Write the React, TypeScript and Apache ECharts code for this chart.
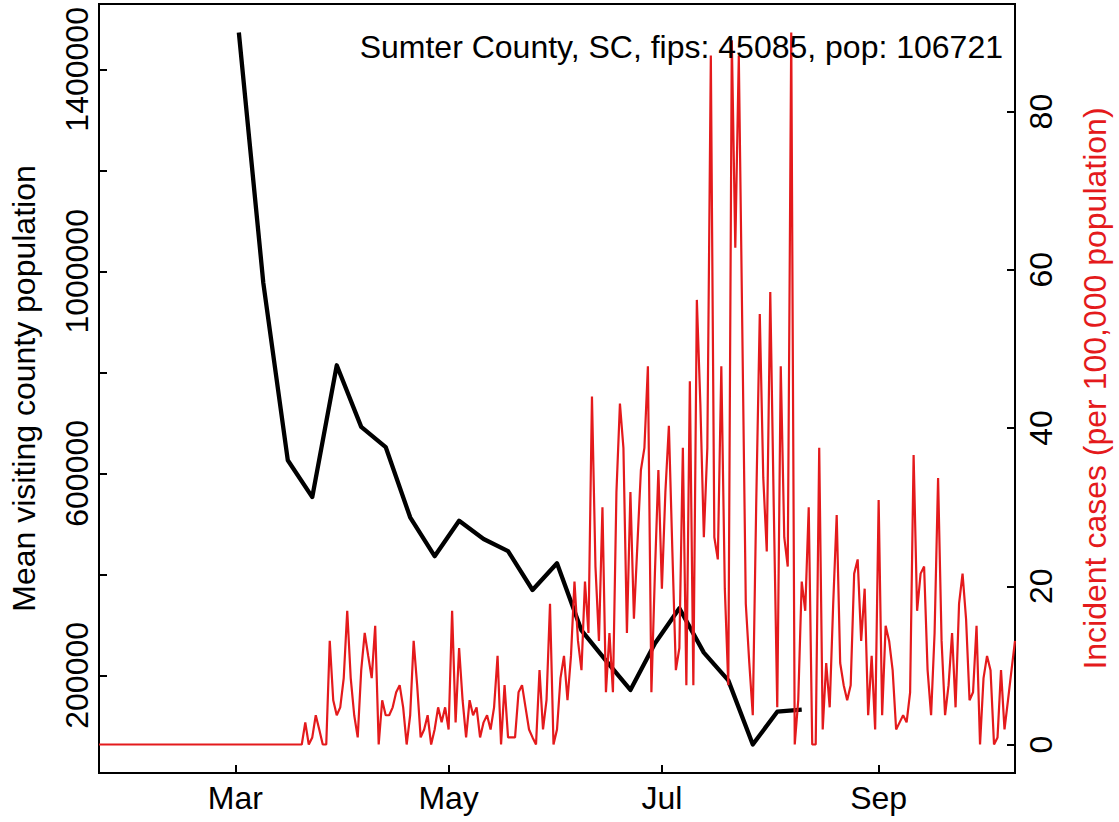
import React, { useEffect, useRef } from 'react';
import * as echarts from 'echarts';

const DAY = 86400000;

// Daily incident cases per 100,000 population (Sumter County, SC), starting 2020-01-22
const caseStart = '2020-01-22';
const incidentCases = [
  0, 0, 0, 0, 0, 0, 0, 0, 0, 0,
  0, 0, 0, 0, 0, 0, 0, 0, 0, 0,
  0, 0, 0, 0, 0, 0, 0, 0, 0, 0,
  0, 0, 0, 0, 0, 0, 0, 0, 0, 0,
  0, 0, 0, 0, 0, 0, 0, 0, 0, 0,
  0, 0, 0, 0, 0, 0, 0, 0, 0,
  2.8, 0, 0.9, 3.7, 1.9, 0, 0, 13.1, 5.6, 3.7,
  4.7, 8.4, 16.9, 8.4, 3.7, 0.9, 9.4, 14.1, 11.2, 8.4,
  15.0, 0, 5.6, 3.7, 3.7, 4.7, 6.6, 7.5, 4.7, 0,
  3.7, 13.1, 7.5, 0.9, 1.9, 3.7, 0, 1.9, 4.7, 2.8,
  4.7, 1.9, 16.9, 2.8, 12.2, 5.6, 0.9, 5.6, 3.7, 4.7,
  0.9, 2.8, 3.7, 1.9, 4.7, 11.2, 0, 7.5, 0.9, 0.9,
  0.9, 6.6, 7.5, 4.7, 1.9, 0.9, 0, 9.4, 1.9, 5.6,
  17.8, 0, 1.9, 8.4, 11.2, 5.6, 11.2, 20.6, 13.1, 9.4,
  20.6, 14.1, 44.0, 22.5, 13.1, 30.0, 6.6, 14.1, 6.6, 31.9,
  43.1, 37.5, 14.1, 31.9, 15.9, 25.3, 34.7, 37.5, 47.8, 6.6,
  21.6, 34.7, 19.7, 31.9, 40.3, 24.4, 9.4, 12.2, 37.5, 7.5,
  45.9, 7.5, 56.2, 43.1, 26.2, 37.5, 87.1, 26.2, 23.4, 47.8,
  19.7, 7.5, 89.0, 62.8, 87.1, 52.5, 17.8, 10.3, 3.7, 30.9,
  54.4, 33.7, 24.4, 57.2, 30.0, 4.7, 47.8, 26.2, 22.5, 90.0,
  0, 5.6, 20.6, 16.9, 30.0, 0, 0, 37.5, 1.9, 10.3,
  4.7, 17.8, 29.0, 10.3, 7.5, 5.6, 7.5, 21.6, 23.4, 13.1,
  19.7, 3.7, 11.2, 1.9, 30.9, 3.7, 15.0, 13.1, 9.4, 1.9,
  2.8, 3.7, 2.8, 6.6, 36.6, 16.9, 21.6, 22.5, 9.4, 3.7,
  14.1, 33.7, 13.1, 3.7, 7.5, 14.1, 4.7, 17.8, 21.6, 15.9,
  5.6, 6.6, 15.0, 0, 8.4, 11.2, 9.4, 0, 0.9, 9.4,
  1.9, 5.6, 9.4, 13.1,
];

// Weekly mean visiting county population, starting 2020-03-02
const visitStart = '2020-03-02';
const visitingPop = [
  1473000, 977000, 626000, 553000, 814000, 692000, 652000, 513000,
  436000, 506000, 470000, 446000, 369000, 422000, 289000, 229000,
  171000, 263000, 333000, 245000, 190000, 63000, 128000, 132000,
];

const xTickDates = ['2020-03-01', '2020-05-01', '2020-07-01', '2020-09-01'];
const xTickLabels = ['Mar', 'May', 'Jul', 'Sep'];
const leftTicks = [200000, 400000, 600000, 800000, 1000000, 1200000, 1400000];
const leftLabels = [200000, 600000, 1000000, 1400000];
const rightTicks = [0, 20, 40, 60, 80];
const titleText = 'Sumter County, SC, fips: 45085, pop: 106721';
const leftName = 'Mean visiting county population';
const rightName = 'Incident cases (per 100,000 population)';

export default function App() {
  const ref = useRef<HTMLDivElement>(null);
  useEffect(() => {
    if (!ref.current) return;
    const chart = echarts.init(ref.current, null, { renderer: 'svg' });
    const font = '"Liberation Sans", Arial, Helvetica, sans-serif';
    const red = '#e41a1c';
    const t0 = Date.parse(caseStart);
    const v0 = Date.parse(visitStart);
    const redData = incidentCases.map((v, i) => [t0 + i * DAY, v]);
    const blackData = visitingPop.map((v, i) => [v0 + i * 7 * DAY, v]);
    const xTicks = xTickDates.map((d) => Date.parse(d));
    const axisLineStyle = { color: '#000', width: 2 };
    const fmtX = (v: number) => {
      let best = 0;
      xTicks.forEach((t, i) => {
        if (Math.abs(t - v) < Math.abs(xTicks[best] - v)) best = i;
      });
      return xTickLabels[best];
    };
    const option: any = {
      animation: false,
      backgroundColor: '#ffffff',
      grid: {
        left: 98.5, top: 4, right: 100, bottom: 49,
        show: true, borderColor: '#000', borderWidth: 2, backgroundColor: 'transparent',
      },
      xAxis: {
        type: 'value',
        min: t0,
        max: t0 + (incidentCases.length - 1) * DAY,
        axisLine: { show: true, onZero: false, lineStyle: axisLineStyle },
        axisTick: { show: true, inside: true, length: 8, lineStyle: axisLineStyle, customValues: xTicks },
        axisLabel: {
          customValues: xTicks, formatter: fmtX, fontSize: 32, fontFamily: font,
          color: '#000', margin: 25, verticalAlign: 'middle',
        },
        splitLine: { show: false },
      },
      yAxis: [
        {
          type: 'value', position: 'left', min: 6600, max: 1529400,
          axisLine: { show: true, lineStyle: axisLineStyle },
          axisTick: { show: true, inside: true, length: 8, lineStyle: axisLineStyle, customValues: leftTicks },
          axisLabel: {
            customValues: leftLabels, rotate: 90, formatter: (v: number) => String(v),
            fontSize: 32, fontFamily: font, color: '#000', margin: 22,
            align: 'center', verticalAlign: 'middle',
          },
          splitLine: { show: false },
          name: leftName, nameLocation: 'middle', nameRotate: 90, nameGap: 59,
          nameTextStyle: { fontSize: 32, fontFamily: font, color: '#000' },
        },
        {
          type: 'value', position: 'right', min: -3.6, max: 93.6,
          axisLine: { show: true, lineStyle: axisLineStyle },
          axisTick: { show: true, inside: true, length: 8, lineStyle: axisLineStyle, customValues: rightTicks },
          axisLabel: {
            customValues: rightTicks, rotate: 90, formatter: (v: number) => String(v),
            fontSize: 32, fontFamily: font, color: '#000', margin: 26,
            align: 'center', verticalAlign: 'middle',
          },
          splitLine: { show: false },
          name: rightName, nameLocation: 'middle', nameRotate: 90, nameGap: 64,
          nameTextStyle: { fontSize: 32, fontFamily: font, color: red },
        },
      ],
      graphic: [
        {
          type: 'text', x: 1003, y: 46.5, z: 100,
          style: { text: titleText, fontSize: 32, fontFamily: font, fill: '#000', align: 'right', verticalAlign: 'middle' },
        },
      ],
      series: [
        {
          type: 'line', name: 'visiting', xAxisIndex: 0, yAxisIndex: 0, data: blackData,
          showSymbol: false, symbol: 'none', lineStyle: { color: '#000', width: 4.3, join: 'round' },
          itemStyle: { color: '#000' }, z: 2,
        },
        {
          type: 'line', name: 'cases', xAxisIndex: 0, yAxisIndex: 1, data: redData,
          showSymbol: false, symbol: 'none', lineStyle: { color: red, width: 2.2 },
          itemStyle: { color: red }, z: 3,
        },
      ],
    };
    chart.setOption(option);
    return () => chart.dispose();
  }, []);
  return (
    <div
      ref={ref}
      style={{ position: 'absolute', left: 0, top: 0, width: 1119, height: 822, background: '#fff' }}
    />
  );
}
